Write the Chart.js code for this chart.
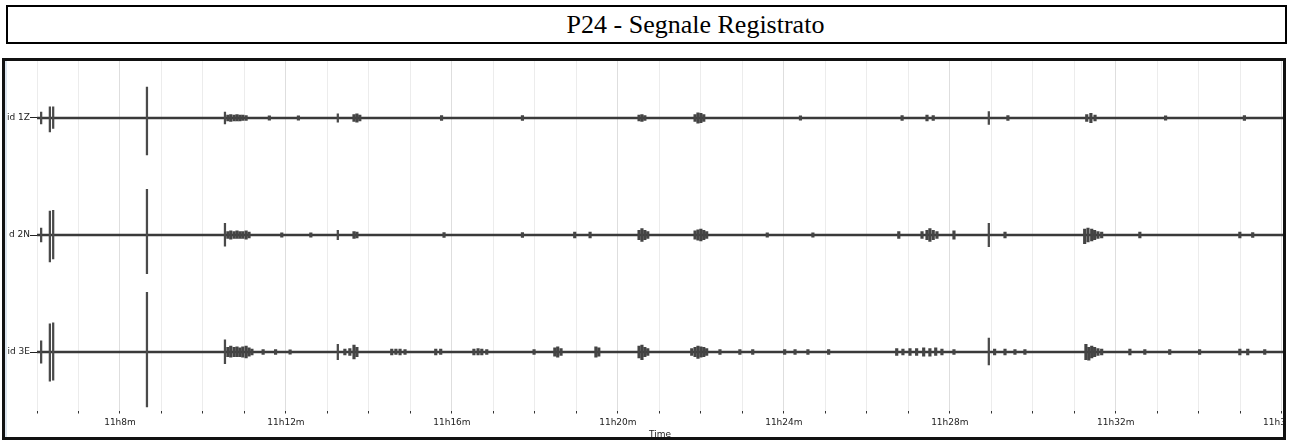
<!DOCTYPE html>
<html>
<head>
<meta charset="utf-8">
<script src="https://cdn.jsdelivr.net/npm/chart.js@4"></script>
<style>
  body { margin: 0; background: #fff; width: 1292px; height: 441px; position: relative; overflow: hidden; }
  #title {
    position: absolute; left: 6px; top: 5px; width: 1281px; height: 39px;
    box-sizing: border-box; border: 2px solid #000; padding-left: 98px;
    font-family: "Liberation Serif", "Times New Roman", serif; font-size: 26px;
    text-align: center; line-height: 35px; color: #000;
  }
  #plot { position: absolute; left: 0; top: 58px; }
  #strip { position: absolute; left: 5px; top: 61px; width: 2px; height: 376px; background: #dce5ef; }
  #frame {
    position: absolute; left: 2px; top: 58px; width: 1284px; height: 382px;
    box-sizing: border-box; border: 3px solid #111; pointer-events: none;
  }
</style>
</head>
<body>
<div id="title">P24 - Segnale Registrato</div>
<canvas id="plot" width="1283" height="383"></canvas>
<div id="strip"></div>
<div id="frame"></div>
<script>
// recording window, minutes after 11h
const recStart = 6.0;
const recEnd = 36.03;

// channel names and their trace offsets (one band = 100 units)
const channels = ['id 1Z', 'd 2N', 'id 3E'];
const offsets = [250, 150, 50];

// x tick labels every 4 minutes
const labelMinutes = [8, 12, 16, 20, 24, 28, 32, 36];

// sharp spikes / markers: [minute, peak up, peak down]
const z1Spikes = [[6.10, 5, -5], [6.31, 9.5, -12], [6.39, 9.5, -9], [8.65, 26.5, -31.5], [10.53, 5, -5], [13.25, 3.5, -3.5], [28.94, 5.5, -5.5]];
const n2Spikes = [[6.10, 6, -6], [6.31, 20.5, -23], [6.39, 21, -20.5], [8.65, 39, -33], [10.53, 10, -9.5], [13.25, 4, -4], [28.94, 10, -10]];
const e3Spikes = [[6.10, 9.5, -9.5], [6.31, 24, -25], [6.39, 25, -24], [8.65, 51, -47], [10.53, 10.5, -10], [13.25, 6.5, -6.5], [28.94, 12, -11]];

// noise bursts: [minute, peak up, peak down]
const z1Noise = [
  [10.60, 2.5, -2.5], [10.67, 3, -3], [10.75, 2.5, -2.5], [10.82, 3, -2.5],
  [10.89, 2.5, -2.5], [10.96, 2.5, -2], [11.04, 2, -2],
  [11.60, 1.8, -1.8], [12.30, 1.8, -1.8],
  [13.64, 3, -3], [13.71, 3.5, -3.5], [13.78, 2.5, -2.5],
  [15.75, 2, -2], [17.70, 2, -2],
  [20.51, 2.5, -2.5], [20.58, 3, -3], [20.65, 2, -2],
  [21.86, 3, -3], [21.93, 4.5, -4.5], [22.00, 4, -4], [22.07, 3, -3],
  [24.40, 1.8, -1.8], [26.85, 2, -2], [27.45, 2.5, -2.5], [27.60, 2, -2],
  [29.40, 2, -2],
  [31.30, 3, -3], [31.40, 4, -4], [31.50, 2.5, -2.5],
  [33.20, 1.8, -1.8], [35.10, 2, -2]
];
const n2Noise = [
  [10.60, 3, -3], [10.67, 3.5, -3.5], [10.75, 3, -3], [10.82, 3.5, -3],
  [10.89, 3, -3], [10.96, 3, -3], [11.04, 3.5, -3.5], [11.11, 2.5, -2.5],
  [11.90, 1.8, -1.8], [12.60, 1.8, -1.8],
  [13.64, 3, -3], [13.71, 2.5, -2.5],
  [15.81, 2, -2], [17.70, 2, -2], [18.96, 2.5, -2.5], [19.33, 2.5, -2.5],
  [20.51, 4, -4], [20.58, 5.5, -5.5], [20.65, 4, -4], [20.72, 3, -3],
  [21.86, 3.5, -3.5], [21.93, 4.5, -4.5], [22.00, 5, -5], [22.07, 4, -4], [22.14, 3, -3],
  [23.60, 1.8, -1.8], [24.70, 1.8, -1.8],
  [26.77, 3, -3], [27.33, 3, -3], [27.45, 4, -4], [27.52, 5.5, -5.5], [27.60, 4, -4], [27.69, 3, -3],
  [28.10, 3.5, -3.5], [29.33, 2.5, -2.5],
  [31.25, 5, -7.5], [31.33, 6, -6], [31.42, 5, -5], [31.49, 4, -4], [31.57, 3, -3], [31.66, 2.5, -2.5],
  [32.58, 2.5, -2.5], [34.99, 2.5, -2.5], [35.30, 2, -2]
];
const e3Noise = [
  [10.60, 4, -4], [10.67, 5, -4.5], [10.75, 4, -4], [10.82, 4.5, -4],
  [10.89, 3.5, -4], [10.96, 4.5, -4.5], [11.04, 5, -5], [11.11, 3.5, -3.5], [11.18, 2.5, -2.5],
  [11.45, 2, -2], [11.75, 2, -2], [12.10, 1.8, -1.8],
  [13.42, 2.5, -2.5], [13.54, 3, -3], [13.64, 6, -6], [13.71, 4, -4],
  [14.55, 2.5, -2.5], [14.65, 2.5, -2], [14.75, 2.5, -2.5], [14.87, 2, -2],
  [15.61, 2.5, -2.5], [15.73, 2.5, -2],
  [16.53, 2.5, -2.5], [16.63, 3, -2.5], [16.72, 2.5, -2.5], [16.84, 2, -2],
  [17.98, 2, -2], [18.48, 3.5, -3.5], [18.55, 4.5, -4.5], [18.63, 3, -3],
  [19.47, 4.5, -4.5], [19.54, 3.5, -3.5],
  [20.51, 5, -5], [20.58, 6, -6.5], [20.65, 4, -4], [20.72, 3, -3],
  [21.78, 3, -3], [21.86, 4, -4], [21.93, 5, -5.5], [22.00, 4.5, -4.5], [22.07, 4, -4], [22.14, 3, -3],
  [22.46, 2, -2], [22.94, 2, -2], [23.25, 2, -2],
  [24.02, 2, -2], [24.27, 2, -2], [24.58, 2, -2], [25.08, 2, -2],
  [26.72, 3, -3], [26.87, 2.5, -2.5], [27.04, 3, -3], [27.20, 3, -3], [27.37, 3.5, -3.5],
  [27.52, 3, -3.5], [27.66, 3.5, -3], [27.81, 2.5, -2.5], [28.10, 2, -2],
  [29.08, 2.5, -2.5], [29.33, 2.5, -2.5], [29.57, 2, -2], [29.81, 2, -2],
  [31.28, 6.5, -6.5], [31.35, 4, -7], [31.42, 5, -5], [31.49, 4, -4], [31.57, 3, -3], [31.66, 2.5, -2.5],
  [32.34, 2.5, -2.5], [32.70, 2, -2], [33.30, 2, -2], [34.02, 2, -2],
  [34.99, 2.5, -2.5], [35.18, 2.5, -2.5], [35.59, 2, -2]
];

const allSpikes = [z1Spikes, n2Spikes, e3Spikes];
const allNoise = [z1Noise, n2Noise, e3Noise];
const traceColor = '#3a3a3a';
const axisFont = { family: 'DejaVu Sans', size: 9 };

function toBars(list, c) {
  return list.map(e => ({ x: e[0], y: [c + e[2], c + e[1]] }));
}

const datasets = [];
channels.forEach((name, i) => {
  const c = offsets[i];
  datasets.push({
    type: 'line',
    label: name,
    data: [{ x: recStart, y: c }, { x: recEnd, y: c }],
    borderColor: traceColor,
    borderWidth: 2.6,
    pointRadius: 0,
    order: 3
  });
  datasets.push({
    type: 'bar',
    label: name + ' noise',
    data: toBars(allNoise[i], c),
    backgroundColor: '#444',
    barThickness: 2.5,
    grouped: false,
    order: 2
  });
  datasets.push({
    type: 'bar',
    label: name + ' spikes',
    data: toBars(allSpikes[i], c),
    backgroundColor: '#4a4a4a',
    barThickness: 1.6,
    grouped: false,
    order: 1
  });
});

new Chart(document.getElementById('plot'), {
  type: 'bar',
  data: { datasets: datasets },
  options: {
    responsive: false,
    devicePixelRatio: 1,
    animation: false,
    layout: { padding: { top: 1.5, left: 0, right: 0, bottom: 0 } },
    plugins: { legend: { display: false }, tooltip: { enabled: false } },
    scales: {
      x: {
        type: 'linear',
        min: recStart,
        max: recEnd,
        offset: false,
        grid: {
          offset: false,
          color: ctx => (labelMinutes.includes(ctx.tick && ctx.tick.value) ? '#dedede' : '#ececec'),
          tickColor: '#333',
          tickLength: 3
        },
        border: { display: false },
        ticks: {
          stepSize: 1,
          autoSkip: false,
          maxRotation: 0,
          includeBounds: false,
          padding: 3.5,
          color: '#222',
          font: axisFont,
          callback: v => (labelMinutes.includes(v) ? '11h' + v + 'm' : '')
        },
        title: { display: true, text: 'Time', color: '#222', font: axisFont, padding: { top: 0, bottom: 1 } },
        afterFit: s => { s.height = 30.5; s.paddingLeft = 0; s.paddingRight = 0; }
      },
      y: {
        min: 0,
        max: 300,
        grid: { drawOnChartArea: false, tickLength: 7, tickColor: '#222' },
        border: { display: false },
        ticks: {
          padding: 0,
          color: '#222',
          font: axisFont,
          callback: v => channels[offsets.indexOf(v)]
        },
        afterBuildTicks: s => { s.ticks = offsets.map(v => ({ value: v })); },
        afterFit: s => { s.width = 37; s.paddingTop = 0; s.paddingBottom = 0; }
      }
    }
  }
});
</script>
</body>
</html>
